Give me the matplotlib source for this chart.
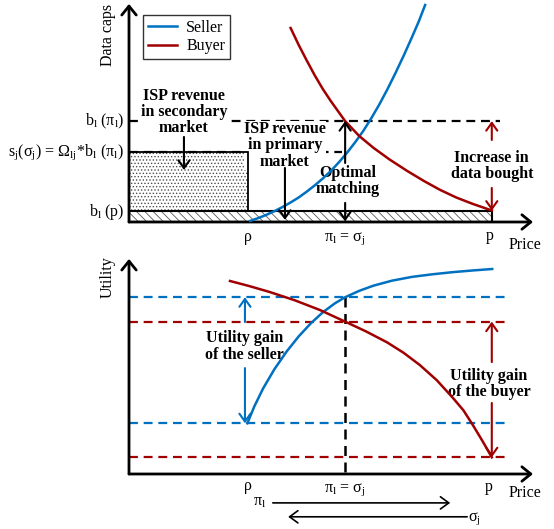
import matplotlib
matplotlib.use("Agg")
import matplotlib.pyplot as plt
from matplotlib.patches import Rectangle
from matplotlib.lines import Line2D

plt.rcParams.update(
    {
        "font.family": ["Liberation Serif", "DejaVu Serif"],
        "font.size": 11.5,
        "mathtext.fontset": "custom",
        "mathtext.rm": "Liberation Serif",
        "mathtext.it": "Liberation Serif:italic",
        "mathtext.bf": "Liberation Serif:bold",
        "hatch.linewidth": 0.6,
    }
)

BLUE = "#0070C0"
RED = "#A00000"

# ---- data ----
# price levels
rho = 29.5
pi_opt = 53.5
p_max = 89.8

# data caps levels (top panel)
b_p = 5.2
s_j = 32.3
b_pi = 46.5

# utility levels (bottom panel)
u_seller_lo = 23.7
u_seller_hi = 82.6
u_buyer_lo = 7.8
u_buyer_hi = 71.2

# data caps curves
cap_seller_x = [30, 32, 34, 36, 38, 40, 42, 44, 46, 48, 50, 52, 54, 56, 58, 60, 62, 64, 66, 68, 70, 71.7, 73.3]
cap_seller_y = [0.5, 1.8, 3.3, 5.0, 6.9, 9.0, 11.3, 14.0, 16.9, 20.1, 23.6, 27.6, 32.0,
                36.8, 42.0, 47.9, 54.3, 61.3, 68.8, 76.7, 85.0, 92.3, 100.0]
cap_buyer_x = [40, 42, 44, 46, 48, 50, 53.5, 57, 60.5, 64.5, 68.8, 73, 77, 81, 85, 89.8]
cap_buyer_y = [89.4, 81.6, 74.4, 67.5, 61.2, 55.6, 46.5, 39.6, 34.2, 28.8, 23.6, 18.9,
               14.8, 11.3, 8.4, 5.3]

# utility curves
ut_seller_x = [29.3, 31, 33.2, 36, 39, 42, 45, 48, 51, 53.5, 57, 60.5, 65, 70, 75, 80, 85, 89.9]
ut_seller_y = [23.7, 31.5, 40.0, 49.0, 57.2, 64.3, 70.4, 75.6, 79.8, 82.6, 85.6, 88.0,
               90.3, 92.1, 93.3, 94.3, 95.1, 95.8]
ut_buyer_x = [25, 30, 34.9, 41, 47.3, 53.5, 58.7, 63.9, 68, 72, 76.2, 80.2, 82.8, 85.1, 87.5, 89.8]
ut_buyer_y = [90.2, 87.7, 85.0, 81.2, 76.6, 71.2, 66.6, 61.5, 56.6, 50.9, 43.8, 35.5,
              29.7, 22.9, 15.4, 7.8]

# ------------------------------

AXIS_ARROW = dict(arrowstyle="->,head_length=0.32,head_width=0.26", lw=2.0,
                  color="black", shrinkA=0, shrinkB=0, mutation_scale=20)


def arrow(ax, x0, y0, x1, y1, color="black", lw=1.5):
    ax.annotate(
        "", xy=(x1, y1), xytext=(x0, y0),
        arrowprops=dict(arrowstyle="->,head_length=0.28,head_width=0.2", lw=lw,
                        color=color, shrinkA=0, shrinkB=0, mutation_scale=20),
        annotation_clip=False,
    )


def hline(ax, y, x1, color, lw=1.6, x0=0):
    ax.plot([x0, x1], [y, y], color=color, lw=lw, ls=(0, (4, 2.6)), clip_on=False, zorder=2)


fig = plt.figure(figsize=(5.54, 5.29), dpi=100)
W, H = 554, 529
ax1 = fig.add_axes([129 / W, 1 - 222 / H, 404 / W, 217 / H])
ax2 = fig.add_axes([129 / W, 1 - 474 / H, 404 / W, 214 / H])
for ax in (ax1, ax2):
    ax.set_xlim(0, 100)
    ax.set_ylim(0, 100)
    ax.axis("off")
    ax.annotate("", xy=(100, 0), xytext=(0, 0), arrowprops=AXIS_ARROW, annotation_clip=False)
    ax.annotate("", xy=(0, 100.5), xytext=(0, 0), arrowprops=AXIS_ARROW, annotation_clip=False)

# ---- top panel: data caps ----
ax1.add_patch(Rectangle((0, 0), p_max, b_p, facecolor="white", edgecolor="0.35",
                        hatch="\\\\\\\\", lw=0))
ax1.add_patch(Rectangle((0, 0), p_max, b_p, facecolor="none", edgecolor="black", lw=1.5,
                        zorder=2.6))
ax1.add_patch(Rectangle((0, b_p), rho, s_j - b_p, facecolor="white", edgecolor="0.3",
                        hatch=".....", lw=0))
ax1.add_patch(Rectangle((0, b_p), rho, s_j - b_p, facecolor="none", edgecolor="black", lw=1.3,
                        zorder=2.6))

hline(ax1, b_pi, 91.8, "black")
hline(ax1, s_j, 52.7, "black")

ax1.plot(cap_seller_x, cap_seller_y, color=BLUE, lw=1.8, clip_on=False, zorder=3)
ax1.plot(cap_buyer_x, cap_buyer_y, color=RED, lw=1.8, clip_on=False, zorder=3)

# y levels
ax1.text(-1.2, b_pi, "b$_\\mathrm{l}$ (π$_\\mathrm{l}$)", ha="right", va="center")
ax1.text(-1.2, s_j, "s$_\\mathrm{j}$(σ$_\\mathrm{j}$) = Ω$_\\mathrm{lj}$*b$_\\mathrm{l}$ (π$_\\mathrm{l}$)",
         ha="right", va="center")
ax1.text(-1.2, b_p - 0.5, "b$_\\mathrm{l}$ (p)", ha="right", va="center")

# price ticks
ax1.text(rho, -7, "ρ", ha="center", va="center")
ax1.text(pi_opt, -7.5, "π$_\\mathrm{l}$ = σ$_\\mathrm{j}$", ha="center", va="center")
ax1.text(p_max - 0.4, -6.5, "p", ha="center", va="center")
ax1.text(98, -10.6, "Price", ha="center", va="center")
ax1.text(-5.2, 86.2, "Data caps", ha="center", va="center", rotation=90)

# annotations
bold = dict(fontweight="bold", fontsize=11.5, ha="center", va="center", linespacing=1.02,
            zorder=2.5, bbox=dict(facecolor="white", edgecolor="none", pad=0.3))
ax1.text(13.6, 50.7, "ISP revenue\nin secondary\nmarket", **bold)
arrow(ax1, 13.6, 39.2, 13.6, 24.0)
ax1.text(38.6, 35.3, "ISP revenue\nin primary\nmarket", **bold)
arrow(ax1, 38.6, 24.9, 38.6, 1.0)
ax1.text(54.2, 19.0, "Optimal\nmatching", **bold)
arrow(ax1, pi_opt, 27.2, pi_opt, b_pi)
arrow(ax1, pi_opt, 8.8, pi_opt, 0.3)
ax1.text(p_max, 25.8, "Increase in\ndata bought", **bold)
arrow(ax1, p_max, 37.8, p_max, b_pi, color=RED)
arrow(ax1, p_max, 15.7, p_max, b_p, color=RED)

handles = [Line2D([0], [0], color=BLUE, lw=1.8, label="Seller"),
           Line2D([0], [0], color=RED, lw=1.8, label="Buyer")]
leg = fig.legend(handles=handles, loc="upper left", bbox_to_anchor=(143 / W, 1 - 15 / H),
                 borderaxespad=0, frameon=True, fancybox=False, edgecolor="black",
                 handlelength=1.8, handletextpad=0.6, borderpad=0.3, labelspacing=0.15,
                 fontsize=11.5)
leg.get_frame().set_linewidth(1.0)

# ---- bottom panel: utility ----
hline(ax2, u_seller_hi, 94.3, BLUE)
hline(ax2, u_seller_lo, 94.3, BLUE)
hline(ax2, u_buyer_hi, 94.3, RED)
hline(ax2, u_buyer_lo, 94.3, RED)
ax2.plot([pi_opt, pi_opt], [u_seller_hi, 0], color="black", lw=1.8, ls=(0, (4, 2.6)))

ax2.plot(ut_seller_x, ut_seller_y, color=BLUE, lw=1.8, clip_on=False, zorder=3)
ax2.plot(ut_buyer_x, ut_buyer_y, color=RED, lw=1.8, clip_on=False, zorder=3)

ax2.text(28.5, 59.6, "Utility gain\nof the seller", **bold)
arrow(ax2, 28.7, 71.0, 28.7, u_seller_hi, color=BLUE)
arrow(ax2, 28.7, 49.5, 28.7, u_seller_lo, color=BLUE)
ax2.text(89.1, 42.1, "Utility gain\nof the buyer", **bold)
arrow(ax2, p_max, 52.3, p_max, u_buyer_hi, color=RED)
arrow(ax2, p_max, 33.2, p_max, u_buyer_lo, color=RED)

ax2.text(rho, -5.6, "ρ", ha="center", va="center")
ax2.text(pi_opt, -7.5, "π$_\\mathrm{l}$ = σ$_\\mathrm{j}$", ha="center", va="center")
ax2.text(p_max - 0.8, -6.0, "p", ha="center", va="center")
ax2.text(98, -8.9, "Price", ha="center", va="center")
ax2.text(-5.2, 92.0, "Utility", ha="center", va="center", rotation=90)

ax2.text(32.4, -13.0, "π$_\\mathrm{l}$", ha="center", va="center")
ax2.annotate("", xy=(79.5, -13.5), xytext=(35.6, -13.5), annotation_clip=False,
             arrowprops=dict(arrowstyle="->,head_length=0.3,head_width=0.22", lw=1.2,
                             color="black", shrinkA=0, shrinkB=0, mutation_scale=20))
ax2.annotate("", xy=(39.4, -20.0), xytext=(83.7, -20.0), annotation_clip=False,
             arrowprops=dict(arrowstyle="->,head_length=0.3,head_width=0.22", lw=1.2,
                             color="black", shrinkA=0, shrinkB=0, mutation_scale=20))
ax2.text(85.4, -21.0, "σ$_\\mathrm{j}$", ha="center", va="center")

fig.savefig("out.png", dpi=100)
